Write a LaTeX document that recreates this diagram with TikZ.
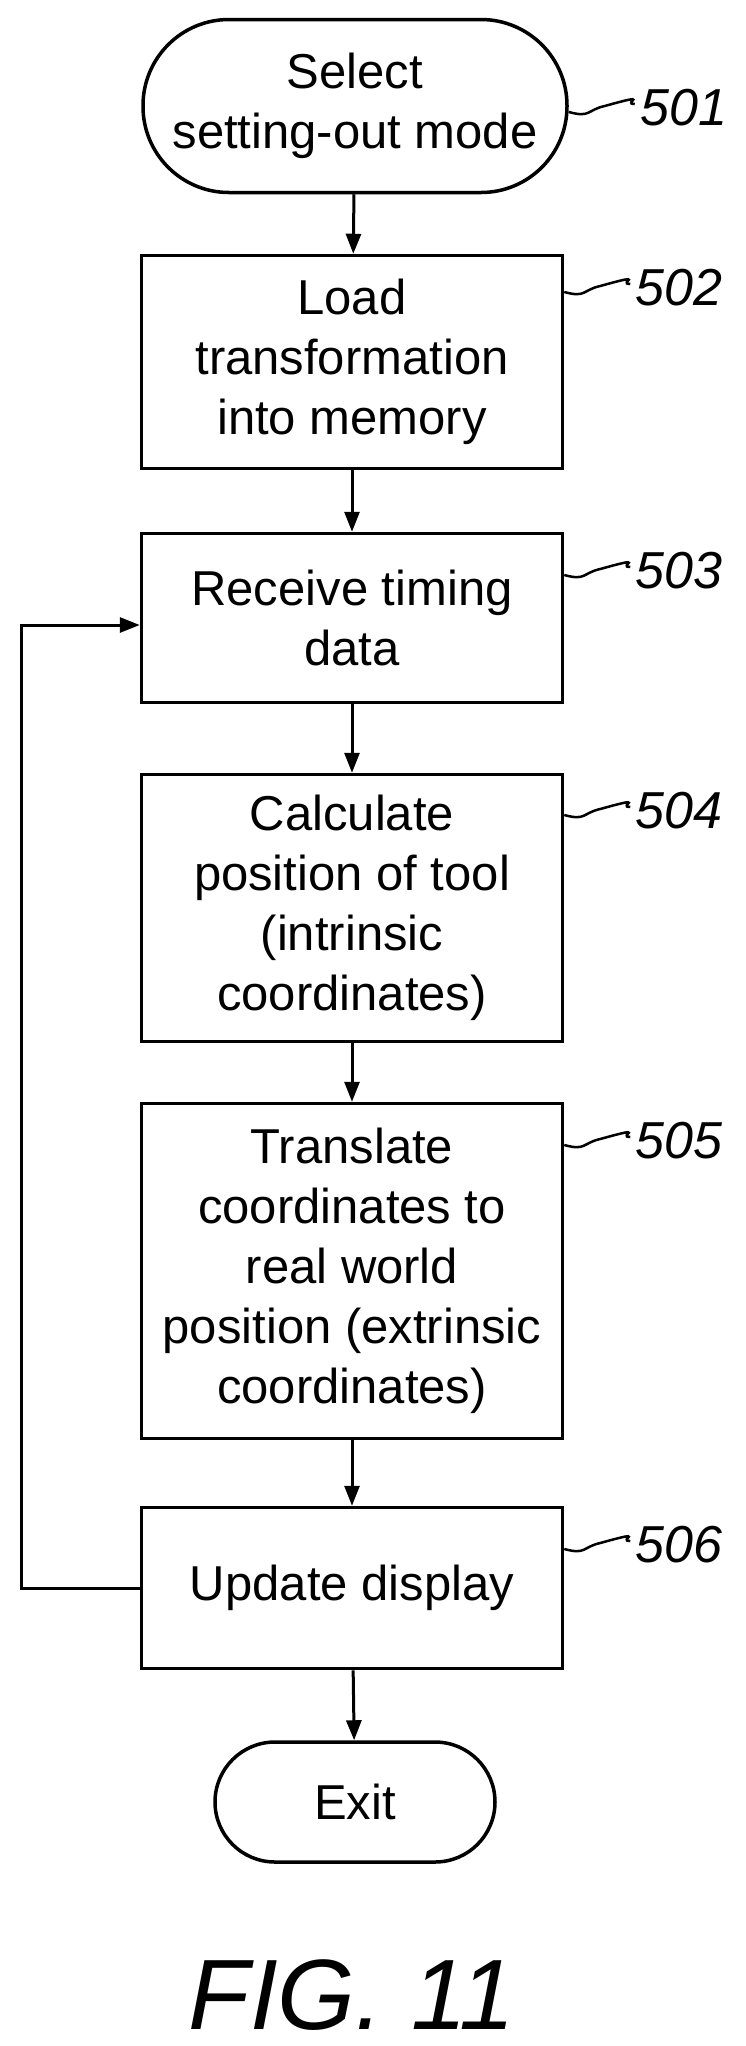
\documentclass[tikz,border=0pt]{standalone}
\usepackage{fontspec}
\setmainfont{Liberation Sans}
\usetikzlibrary{arrows.meta}
\begin{document}
\begin{tikzpicture}[x=1pt,y=-1pt,
  box/.style={draw,line width=3.5pt,minimum width=421pt,align=center,font=\fontsize{49}{60}\selectfont,inner sep=0pt},
  term/.style={box,rounded corners=86pt},
  lab/.style={font=\fontsize{52}{52}\selectfont\itshape,anchor=west},
  arr/.style={line width=3pt,-{Triangle[length=20pt,width=15pt]}},
  sq/.style={line width=2.5pt}]
\useasboundingbox (0,0) rectangle (746,2046);
\node[term,minimum width=424pt,minimum height=173pt] (n1) at (355,106) {Select\\setting-out mode};
\node[box,minimum height=213pt] (n2) at (352,362) {Load\\transformation\\into memory};
\node[box,minimum height=169pt] (n3) at (352,618) {Receive timing\\data};
\node[box,minimum height=267pt] (n4) at (352,908) {Calculate\\position of tool\\(intrinsic\\coordinates)};
\node[box,minimum height=335pt] (n5) at (352,1271) {Translate\\coordinates to\\real world\\position (extrinsic\\coordinates)};
\node[box,minimum height=161pt] (n6) at (352,1588) {Update display};
\node[term,minimum width=280pt,minimum height=120pt,rounded corners=60pt] (n7) at (355,1802) {Exit};
\node[font=\fontsize{100}{100}\selectfont\itshape] (fig) at (352,1995) {FIG. 11};
\foreach \n/\t/\y in {n1/501/112,n2/502/292,n3/503/575,n4/504/815,n5/505/1145,n6/506/1549}{
  \coordinate (s\t) at (\n.east |- 0,\y);
  \draw[sq] (s\t) .. controls +(22,6) and +(-18,4) .. +(36,-6) .. controls +(50,-14) and +(-14,0) .. +(66,-8) coordinate (e\t);
  \node[lab] (l\t) at ([xshift=2pt,yshift=-4pt]e\t) {\t};
}
\draw[arr] (n1) -- (n2);
\draw[arr] (n2) -- (n3);
\draw[arr] (n3) -- (n4);
\draw[arr] (n4) -- (n5);
\draw[arr] (n5) -- (n6);
\draw[arr] (n6) -- (n7);
\coordinate (c1) at (21,1588);
\coordinate (c2) at (21,625);
\draw[arr] (n6.west) -- (c1) -- (c2) -- (n3.west |- c2);
\end{tikzpicture}
\end{document}
